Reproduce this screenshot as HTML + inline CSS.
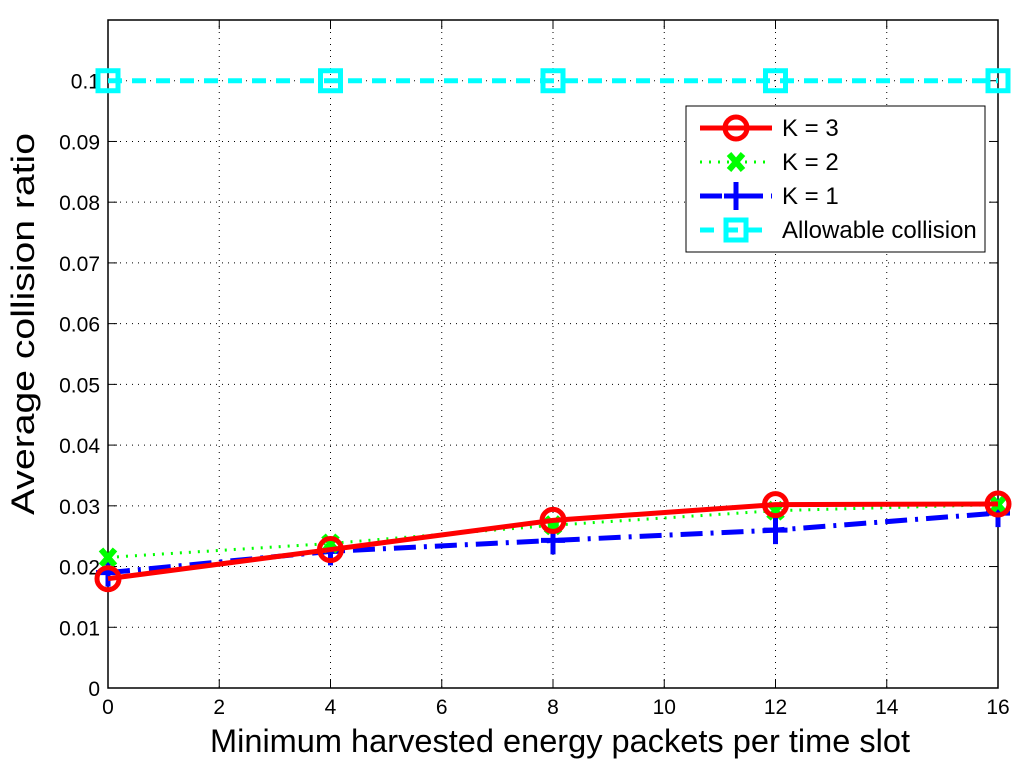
<!DOCTYPE html>
<html><head><meta charset="utf-8"><style>
body{margin:0;background:#fff}
svg text{font-family:"Liberation Sans",sans-serif}
</style></head><body>
<svg id="chart" width="1024" height="766" xmlns="http://www.w3.org/2000/svg"></svg>
<script>
const xValues=[0,4,8,12,16];
const k3=[0.018,0.0228,0.0276,0.0302,0.0303];
const k2=[0.0215,0.0238,0.0268,0.0292,0.0302];
const k1=[0.019,0.0225,0.0243,0.026,0.0288];
const allow=[0.1,0.1,0.1,0.1,0.1];
const xTicks=[0,2,4,6,8,10,12,14,16];
const yTicks=[0,0.01,0.02,0.03,0.04,0.05,0.06,0.07,0.08,0.09,0.1];

const L=108,R=998,T=20,B=688;
const X=v=>L+(v-0)/16*(R-L);
const Y=v=>B-v/0.11*(B-T);
const svg=document.getElementById('chart');
const NS='http://www.w3.org/2000/svg';
function mk(tag,attrs,parent){const e=document.createElementNS(NS,tag);for(const k in attrs)e.setAttribute(k,attrs[k]);(parent||svg).appendChild(e);return e;}

const grid=mk('g',{});


xTicks.forEach(t=>{if(t>0&&t<16)mk('line',{x1:X(t),x2:X(t),y1:T,y2:B,stroke:'#000','stroke-width':1,'stroke-dasharray':'1,5'},grid);});
yTicks.forEach(t=>{if(t>0)mk('line',{x1:L,x2:R,y1:Y(t),y2:Y(t),stroke:'#000','stroke-width':1,'stroke-dasharray':'1,5'},grid);});

const ax=mk('g',{});


mk('rect',{x:L,y:T,width:R-L,height:B-T,fill:'none',stroke:'#000','stroke-width':1.5},ax);
xTicks.forEach(t=>{
  mk('line',{x1:X(t),x2:X(t),y1:B,y2:B-9,stroke:'#000'},ax);
  mk('line',{x1:X(t),x2:X(t),y1:T,y2:T+9,stroke:'#000'},ax);
  const tx=mk('text',{x:X(t),y:B+26,'text-anchor':'middle','font-size':21},ax);tx.textContent=t;
  
  
});
yTicks.forEach(t=>{
  mk('line',{x1:L,x2:L+9,y1:Y(t),y2:Y(t),stroke:'#000'},ax);
  mk('line',{x1:R,x2:R-9,y1:Y(t),y2:Y(t),stroke:'#000'},ax);
  const tx=mk('text',{x:L-8,y:Y(t)+8,'text-anchor':'end','font-size':21},ax);tx.textContent=t===0?'0':String(+t.toFixed(2));
  
  
});
const xt=mk('text',{x:560,y:752,'text-anchor':'middle','font-size':32,textLength:700,lengthAdjust:'spacingAndGlyphs'});xt.textContent='Minimum harvested energy packets per time slot';


const yt=mk('text',{x:0,y:0,'text-anchor':'middle','font-size':32,textLength:382,lengthAdjust:'spacingAndGlyphs',transform:`translate(34,324) rotate(-90)`});yt.textContent='Average collision ratio';



function marker(g,type,x,y,color){
  if(type==='o')mk('circle',{cx:x,cy:y,r:11,fill:'none',stroke:color,'stroke-width':5},g);
  else if(type==='x'){mk('path',{d:`M${x-7},${y-8}L${x+7},${y+8}M${x+7},${y-8}L${x-7},${y+8}`,stroke:color,'stroke-width':6},g);}
  else if(type==='+'){mk('path',{d:`M${x-12},${y}L${x+12},${y}M${x},${y-14}L${x},${y+14}`,stroke:color,'stroke-width':5},g);}
  else if(type==='s'){mk('rect',{x:x-10,y:y-10,width:20,height:20,fill:'none',stroke:color,'stroke-width':5},g);}
}
const series=[
 {name:'allowable',vals:allow,color:'#00ffff',dash:'14,10',w:5,m:'s'},
 {name:'k1',vals:k1,color:'#0000ff',dash:'22,8,3,8',w:5,m:'+'},
 {name:'k2',vals:k2,color:'#00ff00',dash:'2,7',w:3,m:'x'},
 {name:'k3',vals:k3,color:'#ff0000',dash:'',w:5,m:'o'}
];
series.forEach(s=>{
  const g=mk('g',{});
  
  
  const pts=xValues.map((x,i)=>X(x)+','+Y(s.vals[i])).join(' ');
  mk('polyline',{points:pts,fill:'none',stroke:s.color,'stroke-width':s.w,'stroke-dasharray':s.dash},g);
  xValues.forEach((x,i)=>marker(g,s.m,X(x),Y(s.vals[i]),s.color));
});

const lg=mk('g',{});


mk('rect',{x:686,y:106,width:299,height:146,fill:'#fff',stroke:'#000','stroke-width':1},lg);
const items=[['K = 3','#ff0000','',5,'o'],['K = 2','#00ff00','2,7',3,'x'],['K = 1','#0000ff','22,8,3,8',5,'+'],['Allowable collision','#00ffff','14,10',5,'s']];
items.forEach((it,i)=>{
  const y=128+i*34;
  const e=mk('g',{},lg);
  
  
  mk('line',{x1:700,x2:772,y1:y,y2:y,stroke:it[1],'stroke-width':it[3],'stroke-dasharray':it[2]},e);
  marker(e,it[4],736,y,it[1]);
  const t=mk('text',{x:782,y:y+8,'font-size':24},e);t.textContent=it[0];
});
</script>
</body></html>
